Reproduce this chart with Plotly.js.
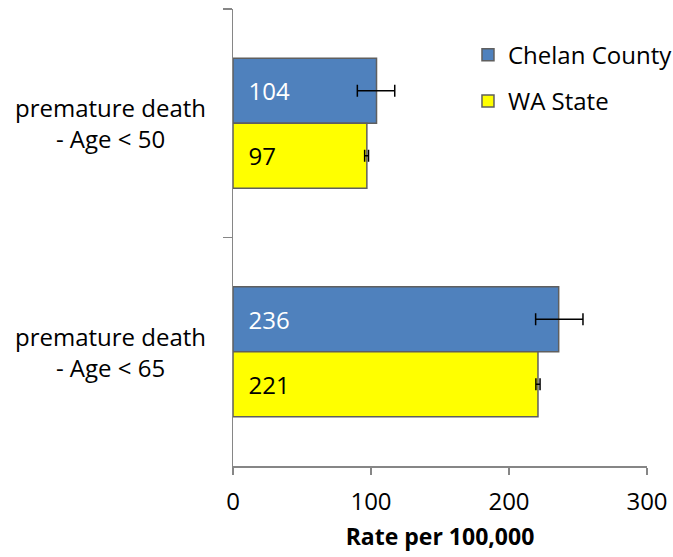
<!DOCTYPE html>
<html>
<head>
<meta charset="utf-8">
<script src="https://cdn.plot.ly/plotly-3.0.1.min.js"></script>
<style>html,body{margin:0;padding:0;background:#fff;}#chart{width:673px;height:557px;}</style>
</head>
<body>
<div id="chart"></div>
<script>
var categories = ["premature death<br>- Age < 50", "premature death<br>- Age < 65"];
var chelanValues = [104, 236];
var chelanErrPlus = [13.2, 17.6];
var chelanErrMinus = [13.9, 16.7];
var waValues = [97, 221];
var waErrPlus = [1.2, 1.5];
var waErrMinus = [1.6, 1.5];
var xTicks = [0, 100, 200, 300];
var seriesNames = ["Chelan County", "WA State"];

var FONT = "'Open Sans', Lato, sans-serif";
var FS = 24;
var NB = "\u00a0\u00a0";

var traces = [
  {
    type: "bar", orientation: "h", name: seriesNames[0], legendgroup: "a",
    y: categories, x: chelanValues,
    marker: {color: "#4F81BD", line: {color: "#5f5f5f", width: 1.5}},
    text: chelanValues.map(String), texttemplate: NB + "%{text}",
    textposition: "inside", insidetextanchor: "start",
    textfont: {family: FONT, size: FS, color: "#ffffff"},
    error_x: {type: "data", symmetric: false, array: chelanErrPlus, arrayminus: chelanErrMinus, color: "#000", thickness: 1.5, width: 6},
    hoverinfo: "none"
  },
  {
    type: "bar", orientation: "h", name: seriesNames[1], legendgroup: "b",
    y: categories, x: waValues,
    marker: {color: "#FFFF00", line: {color: "#5f5f5f", width: 1.5}},
    text: waValues.map(String), texttemplate: NB + "%{text}",
    textposition: "inside", insidetextanchor: "start",
    textfont: {family: FONT, size: FS, color: "#000000"},
    error_x: {type: "data", symmetric: false, array: waErrPlus, arrayminus: waErrMinus, color: "#000", thickness: 1.5, width: 6},
    hoverinfo: "none"
  }
];

var annotations = categories.map(function (c) {
  return {
    xref: "paper", yref: "y", x: -0.297, y: c, xanchor: "center", yanchor: "middle",
    text: c, showarrow: false, align: "center",
    font: {family: FONT, size: FS, color: "#000"}
  };
});

var layout = {
  width: 673, height: 557,
  margin: {l: 233, r: 26, t: 9, b: 91, pad: 0, autoexpand: false},
  paper_bgcolor: "#fff", plot_bgcolor: "#fff",
  barmode: "group", bargap: 0.43, bargroupgap: 0,
  font: {family: FONT, size: FS, color: "#000"},
  showlegend: true,
  legend: {
    x: 0.5676, y: 0.948, xanchor: "left", yanchor: "top",
    traceorder: "grouped", tracegroupgap: 12,
    font: {family: FONT, size: FS, color: "#000"},
    bgcolor: "rgba(0,0,0,0)"
  },
  xaxis: {
    range: [0, 300], tickvals: xTicks, ticktext: xTicks.map(String),
    showgrid: false, zeroline: false,
    showline: true, linecolor: "#868686", linewidth: 1.5,
    ticks: "outside", ticklen: 7, tickcolor: "#868686", tickwidth: 1.5,
    ticklabelstandoff: 7,
    tickfont: {family: FONT, size: FS, color: "#000"},
    title: {text: "<b>Rate per 100,000</b>", font: {family: FONT, size: FS - 1, color: "#000"}, standoff: 12}
  },
  yaxis: {
    type: "category", range: [1.5, -0.5],
    showgrid: false, zeroline: false, showticklabels: false,
    showline: true, linecolor: "#868686", linewidth: 1.5,
    ticks: "outside", ticklen: 9, tickcolor: "#868686", tickwidth: 1.5,
    tickson: "boundaries"
  },
  annotations: annotations
};

Plotly.newPlot("chart", traces, layout, {displayModeBar: false, staticPlot: true});
</script>
</body>
</html>
